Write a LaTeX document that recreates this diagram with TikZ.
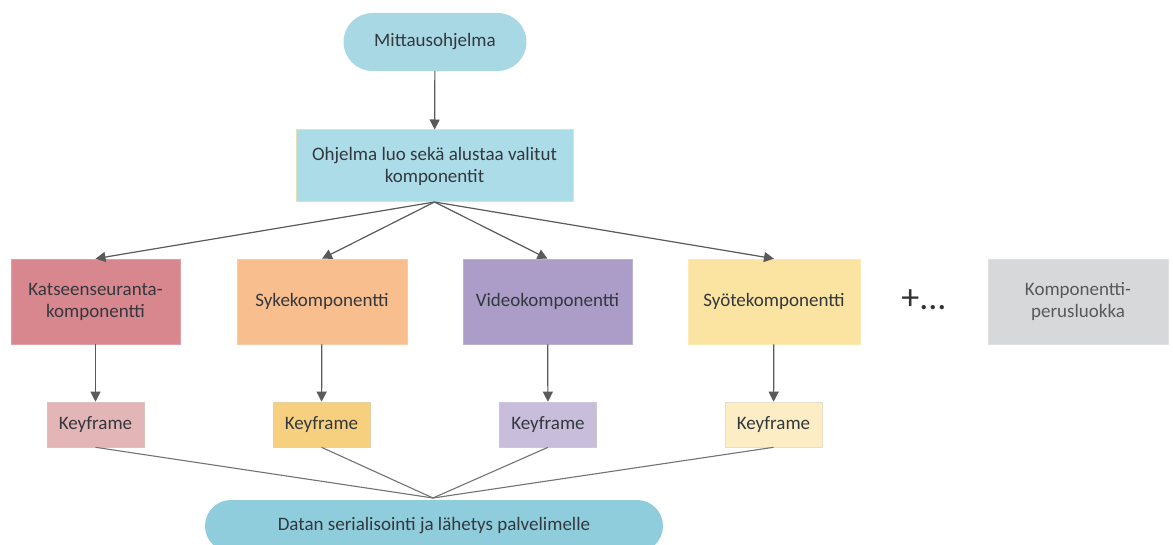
\documentclass[tikz,border=0pt]{standalone}
\usepackage{fontspec}
\setmainfont{Carlito}
\usetikzlibrary{arrows.meta}
\definecolor{txt}{HTML}{33383E}
\definecolor{arr}{HTML}{5A5A5A}
\definecolor{pillA}{HTML}{A9D8E5}
\definecolor{boxB}{HTML}{ABDCE8}
\definecolor{pillC}{HTML}{8FCCDC}
\definecolor{cKats}{HTML}{D9878F}
\definecolor{cSyke}{HTML}{F8BE8D}
\definecolor{cVideo}{HTML}{AB9DC8}
\definecolor{cSyote}{HTML}{FBE3A1}
\definecolor{cGrey}{HTML}{D7D8D9}
\definecolor{kKats}{HTML}{E3B5B7}
\definecolor{kSyke}{HTML}{F6D07F}
\definecolor{kVideo}{HTML}{C8BDDA}
\definecolor{kSyote}{HTML}{FCEDC5}
\tikzset{
  x=1pt, y=-1pt,
  every node/.style={font=\fontsize{19}{22}\selectfont, text=txt, inner sep=0pt, align=center},
  compbox/.style={rectangle, minimum height=85pt, draw=#1!80!white, fill=#1, line width=0.6pt},
  kfbox/.style={rectangle, minimum height=45pt, minimum width=97pt, draw=#1!85!black!60!white, fill=#1, line width=0.6pt},
  arrowline/.style={draw=arr, line width=1.2pt, -{Triangle[length=10pt,width=10pt]}},
  joinline/.style={draw=arr!85!white, line width=1.1pt},
}
\begin{document}
\begin{tikzpicture}
\useasboundingbox (0,0) rectangle (1173,545);
\clip (0,0) rectangle (1173,545);
\fill[white] (0,0) rectangle (1173,545);

\node[rectangle, rounded corners=29pt, fill=pillA, minimum width=183pt, minimum height=58pt] (start) at (435,42) {Mittausohjelma};
\node[rectangle, fill=boxB, draw=cSyote!70!boxB, line width=1pt, minimum width=277pt, minimum height=72pt] (init) at (434.5,166) {Ohjelma luo sekä alustaa valitut\\komponentit};

\node[compbox=cKats, minimum width=169pt] (kats) at (95.5,301.5) {Katseenseuranta-\\komponentti};
\node[compbox=cSyke, minimum width=170pt] (syke) at (322,301.5) {Sykekomponentti};
\node[compbox=cVideo, minimum width=169pt] (video) at (547.5,301.5) {Videokomponentti};
\node[compbox=cSyote, minimum width=172pt] (syote) at (774,301.5) {Syötekomponentti};
\node[font=\fontsize{36}{38}\selectfont, text=black!80] (plus) at (924,300) {+...};
\node[compbox=cGrey, minimum width=180pt, text=black!65] (base) at (1078,301.5) {Komponentti-\\perusluokka};

\node[kfbox=kKats] (kf1) at (95.5,424.5) {Keyframe};
\node[kfbox=kSyke] (kf2) at (321.5,424.5) {Keyframe};
\node[kfbox=kVideo] (kf3) at (548,424.5) {Keyframe};
\node[kfbox=kSyote] (kf4) at (773.5,424.5) {Keyframe};

\node[rectangle, rounded corners=26pt, fill=pillC, minimum width=458pt, minimum height=52pt] (send) at (434,526) {Datan serialisointi ja lähetys palvelimelle};
\coordinate (join) at (433,498);
\coordinate (split) at (434.5,202);

\draw[arrowline] (start) -- (init);
\draw[arrowline] (split) -- (kats.north);
\draw[arrowline] (split) -- (syke.north);
\draw[arrowline] (split) -- (video.north);
\draw[arrowline] (split) -- (syote.north);

\draw[arrowline] (kats) -- (kf1);
\draw[arrowline] (syke) -- (kf2);
\draw[arrowline] (video) -- (kf3);
\draw[arrowline] (syote) -- (kf4);

\draw[joinline] (kf1.south) -- (join);
\draw[joinline] (kf2.south) -- (join);
\draw[joinline] (kf3.south) -- (join);
\draw[joinline] (kf4.south) -- (join);
\end{tikzpicture}
\end{document}
